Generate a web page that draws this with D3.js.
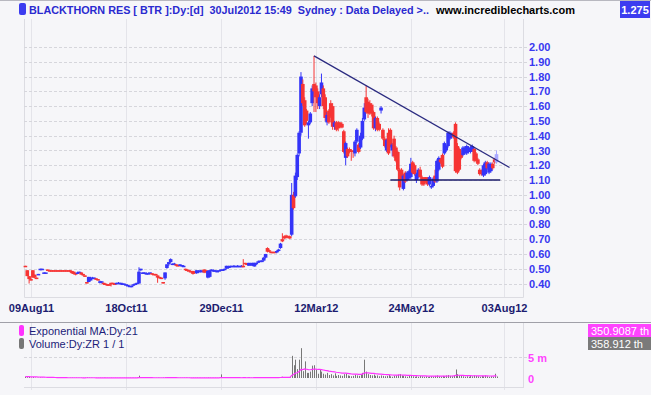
<!DOCTYPE html>
<html>
<head>
<meta charset="utf-8">
<script src="https://cdn.jsdelivr.net/npm/d3@7"></script>
<style>
  body { margin: 0; background: #f6f6f9; }
  svg { display: block; font-family: "Liberation Sans", Arial, sans-serif; }
</style>
</head>
<body>
<div id="chart"></div>
<script>
// daily bars, BTR Aug 2011 - Jul 2012  [open, high, low, close]
var bars = [
  [0.52,0.52,0.515,0.515],[0.49,0.49,0.45,0.45],[0.45,0.45,0.40,0.43],[0.43,0.44,0.42,0.43],
  [0.49,0.49,0.44,0.44],[0.46,0.46,0.435,0.44],[0.44,0.44,0.43,0.435],[0.46,0.465,0.46,0.465],
  [0.49,0.50,0.49,0.50],[0.495,0.50,0.495,0.50],[0.47,0.475,0.47,0.475],[0.475,0.475,0.475,0.475],
  [0.495,0.495,0.49,0.49],[0.49,0.49,0.49,0.49],[0.49,0.49,0.49,0.49],[0.49,0.49,0.49,0.49],
  [0.49,0.49,0.49,0.49],[0.49,0.49,0.49,0.49],[0.49,0.49,0.49,0.49],[0.49,0.49,0.49,0.49],
  [0.49,0.49,0.49,0.49],[0.49,0.49,0.49,0.49],[0.49,0.49,0.49,0.49],[0.49,0.49,0.49,0.49],
  [0.49,0.49,0.475,0.48],[0.485,0.485,0.465,0.47],[0.48,0.48,0.46,0.465],[0.47,0.47,0.455,0.46],
  [0.465,0.48,0.465,0.475],[0.475,0.48,0.47,0.48],[0.475,0.475,0.46,0.46],[0.465,0.465,0.45,0.455],
  [0.455,0.455,0.445,0.45],[0.41,0.41,0.40,0.405],[0.41,0.445,0.41,0.445],[0.42,0.445,0.42,0.44],
  [0.435,0.445,0.435,0.44],[0.435,0.44,0.43,0.44],[0.435,0.435,0.425,0.425],[0.43,0.43,0.42,0.42],
  [0.405,0.42,0.40,0.415],[0.41,0.415,0.40,0.415],[0.405,0.405,0.39,0.395],[0.40,0.40,0.39,0.39],
  [0.395,0.395,0.385,0.39],[0.395,0.395,0.385,0.39],[0.405,0.405,0.38,0.40],[0.405,0.405,0.395,0.40],
  [0.40,0.40,0.395,0.395],[0.40,0.405,0.40,0.405],[0.40,0.41,0.40,0.405],[0.40,0.405,0.40,0.405],
  [0.40,0.405,0.395,0.40],[0.395,0.40,0.395,0.40],[0.39,0.395,0.39,0.395],[0.385,0.395,0.385,0.39],
  [0.38,0.385,0.38,0.385],[0.38,0.385,0.375,0.385],[0.385,0.395,0.385,0.395],[0.395,0.40,0.395,0.40],
  [0.40,0.405,0.395,0.405],[0.40,0.51,0.40,0.48],[0.49,0.50,0.485,0.50],[0.465,0.475,0.465,0.475],
  [0.465,0.475,0.465,0.475],[0.465,0.475,0.465,0.47],[0.465,0.475,0.465,0.47],[0.47,0.475,0.465,0.475],
  [0.47,0.47,0.46,0.46],[0.465,0.465,0.46,0.46],[0.465,0.465,0.455,0.46],[0.455,0.455,0.405,0.44],
  [0.445,0.445,0.435,0.44],[0.44,0.44,0.43,0.435],[0.41,0.41,0.40,0.405],[0.435,0.475,0.425,0.475],
  [0.505,0.53,0.50,0.53],[0.53,0.545,0.52,0.545],[0.545,0.57,0.54,0.565],[0.53,0.535,0.525,0.535],
  [0.53,0.54,0.525,0.535],[0.53,0.53,0.515,0.52],[0.525,0.525,0.515,0.52],[0.52,0.53,0.52,0.53],
  [0.52,0.525,0.515,0.525],[0.515,0.525,0.515,0.52],[0.50,0.50,0.485,0.49],[0.495,0.495,0.48,0.485],
  [0.49,0.49,0.475,0.48],[0.485,0.485,0.47,0.475],[0.485,0.485,0.46,0.465],[0.48,0.48,0.465,0.47],
  [0.47,0.49,0.465,0.49],[0.475,0.49,0.47,0.485],[0.48,0.49,0.475,0.49],[0.48,0.49,0.48,0.485],
  [0.495,0.495,0.47,0.475],[0.49,0.49,0.47,0.475],[0.44,0.49,0.435,0.485],[0.445,0.49,0.44,0.49],
  [0.49,0.495,0.49,0.495],[0.485,0.495,0.48,0.49],[0.48,0.49,0.48,0.49],[0.48,0.49,0.48,0.485],
  [0.485,0.49,0.485,0.49],[0.49,0.495,0.49,0.495],[0.49,0.495,0.49,0.495],[0.495,0.50,0.495,0.50],
  [0.50,0.52,0.50,0.52],[0.505,0.52,0.50,0.515],[0.51,0.52,0.505,0.52],[0.52,0.52,0.52,0.52],
  [0.515,0.525,0.515,0.52],[0.52,0.52,0.52,0.52],[0.515,0.525,0.515,0.52],[0.52,0.52,0.52,0.52],
  [0.515,0.525,0.515,0.52],[0.52,0.565,0.51,0.51],[0.54,0.54,0.53,0.535],[0.535,0.535,0.53,0.53],
  [0.52,0.54,0.52,0.54],[0.525,0.54,0.52,0.535],[0.52,0.54,0.52,0.54],[0.515,0.54,0.515,0.54],
  [0.53,0.54,0.525,0.54],[0.54,0.555,0.54,0.55],[0.545,0.555,0.545,0.555],[0.55,0.56,0.545,0.555],
  [0.555,0.58,0.55,0.575],[0.575,0.60,0.57,0.60],[0.64,0.645,0.61,0.615],[0.625,0.63,0.61,0.615],
  [0.615,0.615,0.61,0.615],[0.615,0.615,0.615,0.615],[0.615,0.615,0.615,0.615],[0.61,0.625,0.605,0.62],
  [0.62,0.635,0.615,0.63],[0.64,0.675,0.635,0.67],[0.70,0.74,0.68,0.685],[0.72,0.725,0.70,0.705],
  [0.725,0.73,0.705,0.71],[0.72,0.725,0.705,0.71],[0.72,0.725,0.70,0.705],[0.73,1.08,0.72,1.00],
  [1.00,1.02,0.90,0.91],[0.99,1.15,0.98,1.13],[1.12,1.28,1.10,1.27],[1.28,1.43,1.26,1.42],
  [1.42,1.83,1.40,1.80],[1.75,1.78,1.60,1.62],[1.64,1.66,1.46,1.47],[1.57,1.58,1.48,1.50],
  [1.47,1.50,1.38,1.49],[1.49,1.56,1.48,1.55],[1.62,1.74,1.60,1.72],[1.75,1.94,1.56,1.70],
  [1.74,1.76,1.56,1.66],[1.70,1.72,1.58,1.62],[1.60,1.68,1.58,1.66],[1.68,1.82,1.66,1.76],
  [1.72,1.74,1.58,1.60],[1.66,1.68,1.50,1.52],[1.49,1.56,1.47,1.54],[1.57,1.58,1.48,1.49],
  [1.62,1.64,1.52,1.53],[1.60,1.62,1.44,1.46],[1.46,1.50,1.44,1.49],[1.49,1.50,1.43,1.44],
  [1.49,1.50,1.43,1.45],[1.49,1.49,1.45,1.46],[1.48,1.49,1.45,1.455],[1.43,1.44,1.28,1.29],
  [1.25,1.36,1.20,1.35],[1.31,1.32,1.25,1.26],[1.31,1.32,1.28,1.29],[1.30,1.31,1.23,1.29],
  [1.30,1.30,1.25,1.29],[1.28,1.37,1.26,1.36],[1.36,1.45,1.35,1.44],[1.34,1.35,1.28,1.29],
  [1.32,1.42,1.31,1.40],[1.38,1.52,1.37,1.50],[1.51,1.62,1.50,1.59],[1.66,1.74,1.55,1.56],
  [1.63,1.65,1.52,1.55],[1.62,1.64,1.54,1.55],[1.61,1.62,1.53,1.55],[1.56,1.57,1.44,1.45],
  [1.45,1.53,1.43,1.52],[1.52,1.53,1.43,1.44],[1.48,1.49,1.43,1.44],[1.57,1.60,1.55,1.59],
  [1.44,1.45,1.37,1.38],[1.38,1.39,1.32,1.33],[1.30,1.38,1.29,1.37],[1.42,1.45,1.27,1.28],
  [1.44,1.45,1.32,1.33],[1.30,1.35,1.26,1.34],[1.38,1.40,1.25,1.26],[1.32,1.33,1.22,1.23],
  [1.29,1.30,1.16,1.17],[1.17,1.18,1.03,1.05],[1.17,1.18,1.10,1.11],[1.04,1.14,1.03,1.13],
  [1.15,1.16,1.08,1.09],[1.10,1.16,1.09,1.15],[1.11,1.17,1.10,1.16],[1.12,1.25,1.11,1.21],
  [1.22,1.23,1.14,1.15],[1.20,1.21,1.13,1.14],[1.10,1.15,1.08,1.14],[1.12,1.18,1.11,1.17],
  [1.17,1.19,1.11,1.12],[1.12,1.13,1.06,1.07],[1.11,1.12,1.06,1.07],[1.12,1.12,1.08,1.09],
  [1.11,1.12,1.06,1.07],[1.07,1.13,1.06,1.12],[1.05,1.07,1.04,1.06],[1.06,1.12,1.05,1.11],
  [1.13,1.17,1.08,1.09],[1.09,1.24,1.08,1.23],[1.17,1.26,1.16,1.25],[1.24,1.25,1.21,1.22],
  [1.27,1.28,1.18,1.19],[1.28,1.36,1.27,1.35],[1.30,1.34,1.29,1.33],[1.33,1.43,1.32,1.42],
  [1.38,1.43,1.37,1.42],[1.39,1.42,1.38,1.41],[1.42,1.43,1.38,1.39],[1.48,1.49,1.15,1.16],
  [1.33,1.35,1.14,1.15],[1.31,1.32,1.16,1.17],[1.28,1.30,1.24,1.25],[1.27,1.33,1.26,1.32],
  [1.28,1.33,1.27,1.32],[1.28,1.34,1.27,1.33],[1.29,1.33,1.28,1.32],[1.29,1.33,1.28,1.32],
  [1.30,1.34,1.29,1.33],[1.31,1.32,1.22,1.23],[1.28,1.29,1.22,1.23],[1.24,1.25,1.20,1.21],
  [1.17,1.18,1.13,1.14],[1.16,1.17,1.13,1.14],[1.13,1.21,1.12,1.20],[1.14,1.23,1.13,1.22],
  [1.22,1.23,1.17,1.18],[1.15,1.22,1.14,1.21],[1.16,1.22,1.15,1.21],[1.21,1.22,1.17,1.18],
  [1.24,1.25,1.21,1.22],[1.22,1.30,1.21,1.275]
];

// daily volume, millions
var volumes = [
  0.32,0.18,0.25,0.12,0.22,0.09,0.06,0.08,0.11,0.05,
  0.04,0.03,0.06,0,0,0.02,0,0,0.03,0,
  0,0.02,0,0,0.05,0.07,0.04,0.06,0.03,0.02,
  0.05,0.04,0.06,0.12,0.08,0.05,0.03,0.02,0.04,0.03,
  0.05,0.03,0.06,0.04,0.03,0.02,0.05,0.02,0.03,0.02,
  0.02,0.03,0.02,0.04,0.03,0.02,0.05,0.03,0.04,0.03,
  0.06,0.55,0.12,0.06,0.04,0.03,0.05,0.03,0.04,0.02,
  0.03,0.06,0.03,0.02,0.08,0.12,0.18,0.10,0.09,0.05,
  0.04,0.03,0.02,0.04,0.03,0.05,0.06,0.03,0.04,0.03,
  0.05,0.04,0.06,0.03,0.04,0.02,0.05,0.03,0.09,0.05,
  0.02,0.03,0.04,0.02,0.03,0.85,0.06,0.04,0.08,0.05,
  0.03,0.02,0.02,0.03,0.02,0.03,0.02,0.12,0.06,0.04,
  0.08,0.05,0.06,0.09,0.07,0.12,0.08,0.10,0.15,0.18,
  0.22,0.12,0.05,0.03,0.04,0.15,0.18,0.25,0.30,0.22,
  0.20,0.18,0.15,5.2,3.0,4.3,2.1,4.3,7.0,1.6,
  3.9,1.2,1.2,1.5,2.9,3.0,2.0,1.0,2.0,1.5,
  1.0,0.8,1.2,0.7,0.9,0.6,1.1,0.5,0.7,0.6,
  0.5,0.9,1.0,0.6,0.5,0.4,0.5,0.8,0.6,0.5,
  0.9,1.2,4.3,1.5,0.9,0.7,0.6,0.8,0.5,0.6,
  0.4,0.6,0.5,0.4,0.5,0.7,0.4,0.3,0.5,0.6,
  0.8,0.9,0.6,0.5,0.4,0.3,0.5,0.6,0.4,0.3,
  0.4,0.3,0.5,0.4,0.3,0.4,0.2,0.3,0.4,0.3,
  0.5,0.6,0.4,0.3,0.5,0.4,0.6,0.7,0.5,0.4,
  0.6,2.0,0.9,0.6,0.5,0.4,0.3,0.4,0.3,0.5,
  0.4,0.6,0.5,0.4,0.3,0.5,0.4,0.6,0.4,0.3,
  0.4,0.3,1.0,0.359
];

var dateTickIdx = [3, 54, 105, 156, 207, 257];
var dateTickLabels = ["09Aug11", "18Oct11", "29Dec11", "12Mar12", "24May12", "03Aug12"];
var priceTicks = [0.4,0.5,0.6,0.7,0.8,0.9,1.0,1.1,1.2,1.3,1.4,1.5,1.6,1.7,1.8,1.9,2.0];
var volTicks = [0, 5];
var volTickLabels = ["0", "5 m"];

// drawn trend lines [bar index, price]
var resistLine = [[155, 1.94], [260, 1.185]];
var supportLine = [[196, 1.10], [255, 1.10]];

var titleText = "BLACKTHORN RES [ BTR ]:Dy:[d]  30Jul2012 15:49  Sydney : Data Delayed >..";
var siteText = "www.incrediblecharts.com";
var lastPrice = "1.275";
var emaLabel = "Exponential MA:Dy:21", volLabel = "Volume:Dy:ZR 1 / 1";
var emaValue = "350.9087 th", volValue = "358.912 th";

var W = 651, H = 395;
var plotL = 24, plotR = 523, plotT = 19, plotB = 297;

var svg = d3.select("#chart").append("svg")
    .attr("width", W).attr("height", H);

svg.append("rect").attr("width", W).attr("height", H).attr("fill", "#f6f6f9");
svg.append("line").attr("x1", 0).attr("x2", W).attr("y1", 0.5).attr("y2", 0.5)
    .attr("stroke", "#b8b8c0");

var x = d3.scaleLinear().domain([0, 253]).range([25.4, 496.5]);
var y = d3.scaleLinear().domain([0.3, 2.0]).range([298.3, 47]);
var yv = d3.scaleLinear().domain([0, 5]).range([378, 356.7]);

// frame
svg.append("path")
    .attr("d", "M" + (plotL + 0.5) + "," + plotT + "V" + (plotB + 0.5) + "H" + (plotR + 0.5) + "V" + plotT)
    .attr("fill", "none").attr("stroke", "#dcdce2");

// vertical grid, both panels
dateTickIdx.forEach(function(d) {
  var xx = Math.round(x(d)) + 0.5;
  svg.append("line").attr("x1", xx).attr("x2", xx).attr("y1", plotT).attr("y2", plotB)
      .attr("stroke", "#e4e4ea");
  svg.append("line").attr("x1", xx).attr("x2", xx).attr("y1", 323).attr("y2", 390)
      .attr("stroke", "#e4e4ea");
});

// horizontal grid
svg.selectAll("line.hgrid").data(priceTicks).enter().append("line")
    .attr("class", "hgrid")
    .attr("x1", plotL).attr("x2", 528)
    .attr("y1", function(d) { return Math.round(y(d)) + 0.5; })
    .attr("y2", function(d) { return Math.round(y(d)) + 0.5; })
    .attr("stroke", "#d6d6dc").attr("stroke-dasharray", "3,2");

// price axis
var yAxis = d3.axisRight(y).tickValues(priceTicks).tickSize(0).tickPadding(6)
    .tickFormat(d3.format(".2f"));
var ya = svg.append("g").attr("transform", "translate(" + plotR + ",0)").call(yAxis);
ya.select(".domain").remove();
ya.selectAll("text").attr("fill", "#3838f0").attr("font-weight", "bold")
    .attr("font-size", "11px").attr("font-family", "'Liberation Sans', Arial, sans-serif");

// date axis
var xAxis = d3.axisBottom(x).tickValues(dateTickIdx).tickSize(0).tickPadding(0)
    .tickFormat(function(d, i) { return dateTickLabels[i]; });
var xa = svg.append("g").attr("transform", "translate(0,304)").call(xAxis);
xa.select(".domain").remove();
xa.selectAll("text").attr("fill", "#1c1c70").attr("font-weight", "bold")
    .attr("font-size", "11px").attr("font-family", "'Liberation Sans', Arial, sans-serif");

// candles
var upCol = "#3434f8", downCol = "#f63434", liveCol = "#a8a8ff";
var prevCol = downCol;
var candleCols = bars.map(function(b, i) {
  var c = b[3] > b[0] ? upCol : (b[3] < b[0] ? downCol : prevCol);
  prevCol = c;
  return i === bars.length - 1 ? liveCol : c;
});

var cg = svg.append("g");
bars.forEach(function(b, i) {
  var cx = x(i);
  var top = y(Math.max(b[0], b[3])), bot = y(Math.min(b[0], b[3]));
  cg.append("line").attr("x1", cx).attr("x2", cx)
      .attr("y1", y(b[1])).attr("y2", y(b[2]))
      .attr("stroke", candleCols[i]).attr("stroke-width", 1);
  cg.append("rect").attr("x", cx - 1.8).attr("width", 3.6)
      .attr("y", top).attr("height", Math.max(bot - top, 1.5))
      .attr("fill", candleCols[i]);
});

// trend lines
var tl = d3.line().x(function(d) { return x(d[0]); }).y(function(d) { return y(d[1]); });
svg.append("path").attr("d", tl(resistLine)).attr("fill", "none")
    .attr("stroke", "#2a2a80").attr("stroke-width", 1.3);
svg.append("path").attr("d", tl(supportLine)).attr("fill", "none")
    .attr("stroke", "#1a1a6a").attr("stroke-width", 1.6);

// header
svg.append("rect").attr("x", 19).attr("y", 3).attr("width", 7).attr("height", 12)
    .attr("rx", 2).attr("fill", "#3c3cf0");
svg.append("text").attr("x", 29).attr("y", 13.5).text(titleText)
    .attr("fill", "#2a2ad0").attr("font-weight", "bold").attr("font-size", "10.8px")
    .attr("xml:space", "preserve").style("white-space", "pre");
svg.append("text").attr("x", 436).attr("y", 13.5).text(siteText)
    .attr("fill", "#000").attr("font-weight", "bold").attr("font-size", "11px");
svg.append("rect").attr("x", 620).attr("y", 1).attr("width", 30).attr("height", 17)
    .attr("fill", "#3c3cf0");
svg.append("text").attr("x", 635).attr("y", 13.5).attr("text-anchor", "middle").text(lastPrice)
    .attr("fill", "#fff").attr("font-weight", "bold").attr("font-size", "11px");

// lower panel
svg.append("line").attr("x1", 0).attr("x2", W).attr("y1", 322.5).attr("y2", 322.5)
    .attr("stroke", "#a0a0a8");
svg.append("line").attr("x1", plotR + 0.5).attr("x2", plotR + 0.5).attr("y1", 323).attr("y2", 388)
    .attr("stroke", "#dcdce2");
svg.append("line").attr("x1", plotL).attr("x2", plotR).attr("y1", 387.5).attr("y2", 387.5)
    .attr("stroke", "#dcdce2");
volTicks.forEach(function(v, i) {
  var yy = Math.round(yv(v)) + 0.5;
  if (v > 0) {
    svg.append("line").attr("x1", plotL).attr("x2", 527).attr("y1", yy).attr("y2", yy)
        .attr("stroke", "#d6d6dc").attr("stroke-dasharray", "3,2");
  }
  svg.append("text").attr("x", 528).attr("y", yy + 4).text(volTickLabels[i])
      .attr("fill", "#ff44ff").attr("font-weight", "bold").attr("font-size", "11px");
});

svg.append("g").selectAll("line").data(volumes).enter().append("line")
    .attr("x1", function(d, i) { return Math.round(x(i)) + 0.5; })
    .attr("x2", function(d, i) { return Math.round(x(i)) + 0.5; })
    .attr("y1", yv(0)).attr("y2", function(d) { return yv(d); })
    .attr("stroke", "#777").attr("stroke-width", 1);

// 21 day exponential moving average of volume
var k = 2 / 22, ema = [];
volumes.forEach(function(v, i) { ema.push(i === 0 ? v : ema[i - 1] + k * (v - ema[i - 1])); });
svg.append("path")
    .attr("d", d3.line().x(function(d, i) { return x(i); }).y(function(d) { return yv(d); })(ema))
    .attr("fill", "none").attr("stroke", "#ff33ff").attr("stroke-width", 1.2);

// legend
svg.append("rect").attr("x", 19).attr("y", 325).attr("width", 5).attr("height", 11)
    .attr("rx", 2).attr("fill", "#ff33ff");
svg.append("text").attr("x", 29).attr("y", 334.5).text(emaLabel)
    .attr("fill", "#1c1c78").attr("font-size", "11px");
svg.append("rect").attr("x", 19).attr("y", 338).attr("width", 5).attr("height", 11)
    .attr("rx", 2).attr("fill", "#777");
svg.append("text").attr("x", 29).attr("y", 348).text(volLabel)
    .attr("fill", "#1c1c78").attr("font-size", "11px");

svg.append("rect").attr("x", 588).attr("y", 324).attr("width", 63).attr("height", 13)
    .attr("fill", "#ff44ff");
svg.append("text").attr("x", 591).attr("y", 334.5).text(emaValue)
    .attr("fill", "#fff").attr("font-size", "11px");
svg.append("rect").attr("x", 588).attr("y", 337).attr("width", 63).attr("height", 13)
    .attr("fill", "#7a7a7a");
svg.append("text").attr("x", 591).attr("y", 347.5).text(volValue)
    .attr("fill", "#fff").attr("font-size", "11px");
</script>
</body>
</html>
